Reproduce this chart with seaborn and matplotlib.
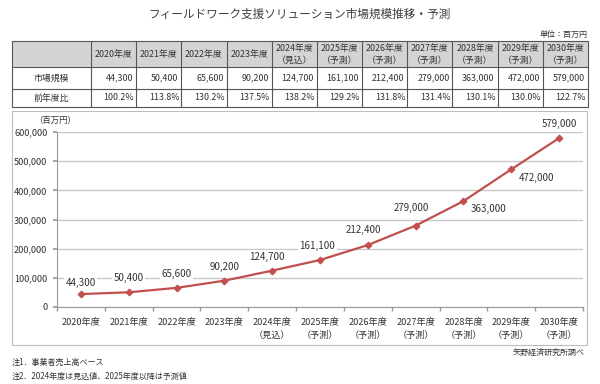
import matplotlib
matplotlib.use("Agg")
import matplotlib.pyplot as plt
import seaborn as sns
import pandas as pd
from matplotlib.patches import Rectangle

# ---- data ----
years = ["2020年度", "2021年度", "2022年度", "2023年度", "2024年度", "2025年度",
         "2026年度", "2027年度", "2028年度", "2029年度", "2030年度"]
year_notes = ["", "", "", "", "（見込）", "（予測）", "（予測）", "（予測）", "（予測）", "（予測）", "（予測）"]
market_size = [44300, 50400, 65600, 90200, 124700, 161100, 212400, 279000, 363000, 472000, 579000]
yoy = ["100.2%", "113.8%", "130.2%", "137.5%", "138.2%", "129.2%", "131.8%", "131.4%", "130.1%", "130.0%", "122.7%"]
y_ticks = [0, 100000, 200000, 300000, 400000, 500000, 600000]

title = "フィールドワーク支援ソリューション市場規模推移・予測"
unit = "単位：百万円"
row_labels = ["市場規模", "前年度比"]
source = "矢野経済研究所調べ"
notes = ["注1．事業者売上高ベース", "注2．2024年度は見込値、2025年度以降は予測値"]

sns.set_theme(style="white")
plt.rcParams['font.family'] = ['Noto Sans CJK JP', 'DejaVu Sans']

W, H = 600, 384
fig = plt.figure(figsize=(W / 100, H / 100), dpi=100)

# overlay axes in pixel coordinates
bg = fig.add_axes([0, 0, 1, 1])
bg.set_xlim(0, W)
bg.set_ylim(H, 0)
bg.axis("off")

txt = "#333333"
bg.text(300, 14, title, ha="center", va="center", fontsize=8.4, color="#404040")
bg.text(588, 34, unit, ha="right", va="center", fontsize=5.8, color=txt)

# ---- table ----
tl, tr = 11.5, 588
c0 = 91
cw = (tr - c0) / len(years)
rows_y = [41, 67, 89, 107]
bg.add_patch(Rectangle((tl, rows_y[0]), tr - tl, rows_y[1] - rows_y[0],
                       facecolor="#d4d4d4", edgecolor="none", zorder=1))
lc = "#555555"
for y in rows_y:
    bg.plot([tl, tr], [y, y], color=lc, lw=0.8, zorder=2)
xs = [tl, c0] + [c0 + cw * (i + 1) for i in range(len(years))]
for x in xs:
    bg.plot([x, x], [rows_y[0], rows_y[-1]], color=lc, lw=0.8, zorder=2)
fs_t = 6.4
for i, (yr, nt) in enumerate(zip(years, year_notes)):
    cx = c0 + cw * (i + 0.5)
    if nt:
        bg.text(cx, 49, yr, ha="center", va="center", fontsize=fs_t, color=txt, zorder=3)
        bg.text(cx, 60, nt, ha="center", va="center", fontsize=fs_t, color=txt, zorder=3)
    else:
        bg.text(cx, 54, yr, ha="center", va="center", fontsize=fs_t, color=txt, zorder=3)
    bg.text(c0 + cw * (i + 1) - 3, 78, f"{market_size[i]:,}", ha="right", va="center",
            fontsize=fs_t, color=txt, zorder=3)
    bg.text(c0 + cw * (i + 1) - 2, 98, yoy[i], ha="right", va="center",
            fontsize=fs_t, color=txt, zorder=3)
bg.text((tl + c0) / 2, 78, row_labels[0], ha="center", va="center", fontsize=fs_t, color=txt)
bg.text((tl + c0) / 2, 98, row_labels[1], ha="center", va="center", fontsize=fs_t, color=txt)

# chart frame
bg.add_patch(Rectangle((12, 111), 575, 234, facecolor="none", edgecolor="#bdbdbd", lw=0.8))

# footer
bg.text(585, 352, source, ha="right", va="center", fontsize=5.8, color=txt)
bg.text(12, 362, notes[0], ha="left", va="center", fontsize=5.8, color=txt)
bg.text(12, 376, notes[1], ha="left", va="center", fontsize=5.8, color=txt)

# ---- chart ----
ax_l, ax_r, ax_t, ax_b = 57, 583, 132, 307
ax = fig.add_axes([ax_l / W, 1 - ax_b / H, (ax_r - ax_l) / W, (ax_b - ax_t) / H])
ax.set_facecolor("none")
df = pd.DataFrame({"year": years, "size": market_size, "x": range(len(years))})
line_c = "#c0504d"
sns.lineplot(data=df, x="x", y="size", ax=ax, color=line_c, lw=1.6,
             marker="D", markersize=3.5, markeredgecolor=line_c, zorder=4)
ax.set_xlim(-0.5, len(years) - 0.5)
ax.set_ylim(0, 600000)
ax.set_yticks(y_ticks)
ax.set_yticklabels([f"{v:,}" for v in y_ticks], fontsize=6.6, color=txt)
ax.set_xticks(range(len(years)))
ax.set_xticklabels([y + ("\n" + n if n else "") for y, n in zip(years, year_notes)],
                   fontsize=6.6, color=txt, linespacing=1.5)
ax.tick_params(axis="x", length=0, pad=8)
ax.tick_params(axis="y", length=3, color="#999999", pad=4, left=True)
ax.set_xlabel("")
ax.set_ylabel("")
ax.grid(axis="y", color="#c8c8c8", lw=1.0)
ax.set_axisbelow(True)
for s in ["top", "right"]:
    ax.spines[s].set_visible(False)
ax.spines["left"].set_color("#999999")
ax.spines["bottom"].set_color("#999999")
ax.spines["left"].set_linewidth(0.8)
ax.spines["bottom"].set_linewidth(0.8)
# minor ticks at category boundaries
ax.set_xticks([i - 0.5 for i in range(len(years) + 1)], minor=True)
ax.tick_params(axis="x", which="minor", length=3, color="#999999", bottom=True)

# data labels (offsets in points)
offsets = [(0, 8), (0, 10), (0, 10), (0, 10), (-4, 10), (-2, 10), (-3, 11), (-3, 13),
           (18, -6), (18, -6), (0, 10)]
for i, v in enumerate(market_size):
    ax.annotate(f"{v:,}", (i, v), xytext=offsets[i], textcoords="offset points",
                ha="center", va="center", fontsize=7, color=txt, zorder=5,
                bbox=dict(boxstyle="square,pad=0.15", fc="white", ec="none"))

bg.text(55, 120, "（百万円）", ha="center", va="center", fontsize=6.0, color=txt)

fig.savefig("out.png", dpi=100)
